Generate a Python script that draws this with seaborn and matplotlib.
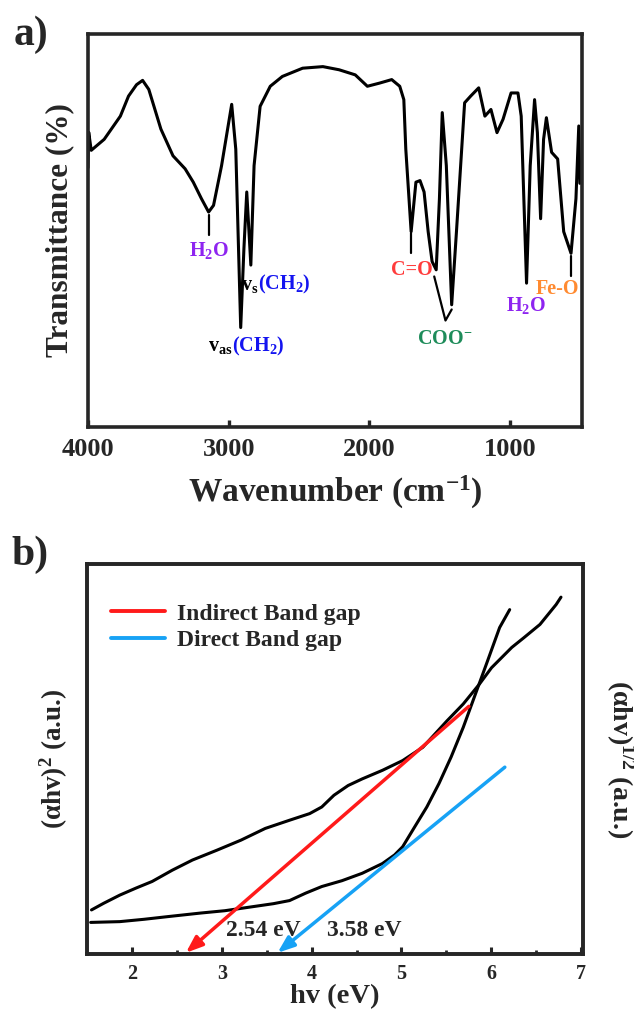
import numpy as np
import pandas as pd
import seaborn as sns
import matplotlib
matplotlib.use("Agg")
import matplotlib.pyplot as plt

# ---- FTIR spectrum (panel a) ----
wavenumber = [4000, 3995, 3977, 3885, 3770, 3712, 3655, 3612, 3568, 3482, 3396, 3310,
              3252, 3194, 3143, 3108, 3051, 2979, 2950, 2915, 2892, 2872, 2843, 2820,
              2777, 2705, 2619, 2475, 2331, 2216, 2101, 2015, 1929, 1842, 1785, 1756,
              1742, 1704, 1670, 1641, 1612, 1583, 1555, 1526, 1503, 1483, 1454, 1416,
              1382, 1324, 1281, 1224, 1180, 1137, 1094, 1051, 994, 945, 922, 884, 858,
              827, 807, 784, 763, 743, 706, 663, 620, 568, 533, 513, 505]
transmittance = [66.0, 75.0, 70.4, 73.2, 79.1, 84.2, 87.1, 88.2, 85.9, 75.8, 69.0, 65.7,
                 62.3, 58.1, 54.7, 56.4, 66.5, 82.1, 70.7, 25.3, 45.5, 59.8, 41.2, 66.5,
                 81.6, 86.7, 89.2, 91.3, 91.7, 90.9, 89.6, 86.7, 87.5, 88.4, 86.7, 83.3,
                 70.7, 49.7, 62.3, 62.7, 59.8, 49.7, 42.1, 40.0, 58.1, 80.0, 66.5, 31.1,
                 49.7, 82.5, 84.2, 86.3, 79.1, 80.8, 74.9, 78.3, 85.0, 85.0, 79.1, 36.6,
                 66.5, 83.3, 74.9, 53.0, 73.2, 78.7, 69.9, 68.2, 49.7, 44.2, 58.1, 76.6,
                 62.0]

# ---- band gap curves (panel b) ----
hv_sq = [1.550, 1.685, 1.865, 2.045, 2.225, 2.450, 2.674, 2.944, 3.214, 3.484, 3.754,
         3.978, 4.113, 4.248, 4.406, 4.563, 4.788, 5.013, 5.237, 5.372, 5.507, 5.687,
         5.867, 6.002, 6.227, 6.362, 6.541, 6.721, 6.775]
y_sq = [11.3, 13.0, 15.1, 16.9, 18.6, 21.5, 24.1, 26.6, 29.2, 32.2, 34.3, 36.0, 37.7,
        40.7, 43.2, 44.9, 47.1, 49.6, 53.0, 56.4, 59.8, 64.1, 69.2, 73.4, 78.6, 81.1,
        84.5, 89.6, 91.5]
hv_half = [1.541, 1.865, 2.135, 2.405, 2.764, 3.034, 3.304, 3.574, 3.754, 3.933, 4.113,
           4.338, 4.563, 4.788, 4.923, 5.013, 5.147, 5.282, 5.417, 5.552, 5.687, 5.822,
           5.957, 6.092, 6.204]
y_half = [8.1, 8.3, 8.9, 9.6, 10.5, 11.1, 12.0, 12.9, 13.7, 15.6, 17.3, 18.8, 20.7,
          23.2, 25.4, 27.5, 32.6, 37.7, 43.7, 50.5, 58.1, 66.6, 75.1, 83.7, 88.3]

# tangent fits: (start x, start y) -> (end x, end y)
indirect_fit = [5.75, 63.5, 2.60, 0.3]
direct_fit = [6.15, 47.9, 3.62, 0.3]
gap_labels = ["2.54 eV", "3.58 eV"]

sns.set_style("ticks")
plt.rcParams['font.family'] = ['Liberation Serif', 'DejaVu Serif']
plt.rcParams['font.weight'] = 'bold'
plt.rcParams['mathtext.fontset'] = 'custom'
plt.rcParams['mathtext.rm'] = 'Liberation Serif:bold'
plt.rcParams['mathtext.it'] = 'Liberation Serif:italic:bold'
plt.rcParams['mathtext.bf'] = 'Liberation Serif:bold'
plt.rcParams['axes.linewidth'] = 2.6

fig = plt.figure(figsize=[6.34, 10.15], dpi=100)

# ================= panel a =================
ax1 = fig.add_axes([88/634, 1-427/1015, 494/634, 393/1015])
df_a = pd.DataFrame({"wn": wavenumber, "T": transmittance})
sns.lineplot(data=df_a, x="wn", y="T", ax=ax1, color="black", lw=2.2,
             estimator=None, sort=False)
ax1.set_xlim(4000, 490)
ax1.set_ylim(0, 100)
ax1.set_xticks([4000, 3000, 2000, 1000])
ax1.set_yticks([])
ax1.tick_params(axis='x', direction='in', length=5, width=2.4, labelsize=19, pad=8)
for lab in ax1.get_xticklabels():
    lab.set_fontweight('bold')
ax1.set_xlabel("Wavenumber (cm$^{\\mathbf{-1}}$)", fontsize=24, fontweight='bold', labelpad=9)
ax1.set_ylabel("Transmittance (%)", fontsize=22.5, fontweight='bold', labelpad=10)

purple = "#8E24F0"
blue = "#1414F0"
lab_fs = 14.5

# marker ticks
for x, y0, y1 in [(3143, 53.9, 48.8), (1704, 49.4, 44.2), (568, 43.4, 38.5)]:
    ax1.plot([x, x], [y0, y1], color="black", lw=1.6)
ax1.plot([1540, 1460, 1416], [38.3, 27.1, 29.9], color="black", lw=1.6)

ax1.text(3143, 45.0, "H$_2$O", color=purple, fontsize=lab_fs, ha='center', va='center')
ax1.text(2790, 36.2, "v$_\\mathrm{s}$", color="black", fontsize=lab_fs, ha='right', va='center')
ax1.text(2790, 36.2, "(CH$_2$)", color=blue, fontsize=lab_fs, ha='left', va='center')
ax1.text(2975, 20.6, "v$_\\mathrm{as}$", color="black", fontsize=lab_fs, ha='right', va='center')
ax1.text(2975, 20.6, "(CH$_2$)", color=blue, fontsize=lab_fs, ha='left', va='center')
ax1.text(1698, 40.0, "C=O", color="#FF3C3C", fontsize=lab_fs, ha='center', va='center')
ax1.text(1468, 22.4, "COO$^{-}$", color="#1E8C5A", fontsize=lab_fs, ha='center', va='center')
ax1.text(887, 30.8, "H$_2$O", color=purple, fontsize=lab_fs, ha='center', va='center')
ax1.text(662, 35.2, "Fe-O", color="#FF8A30", fontsize=lab_fs, ha='center', va='center')

fig.text(31/634, 1-35/1015, "a)", fontsize=30, fontweight='bold', ha='center', va='center')

# ================= panel b =================
ax2 = fig.add_axes([87/634, 1-954/1015, 496/634, 390/1015])
df_sq = pd.DataFrame({"hv": hv_sq, "y": y_sq})
df_half = pd.DataFrame({"hv": hv_half, "y": y_half})
sns.lineplot(data=df_sq, x="hv", y="y", ax=ax2, color="black", lw=2.2, estimator=None)
sns.lineplot(data=df_half, x="hv", y="y", ax=ax2, color="black", lw=2.2, estimator=None)

red = "#FF1A1A"
cyan = "#17A2F5"
for fit, c in [(indirect_fit, red), (direct_fit, cyan)]:
    ax2.annotate("", xy=(fit[2], fit[3]), xytext=(fit[0], fit[1]),
                 arrowprops=dict(arrowstyle="-|>,head_length=1.0,head_width=0.38",
                                 color=c, lw=2.5, shrinkA=0, shrinkB=0))
ax2.plot([], [], color=red, lw=2.8, label="Indirect Band gap")
ax2.plot([], [], color=cyan, lw=2.8, label="Direct Band gap")
leg = ax2.legend(loc="upper left", frameon=False, fontsize=17, handlelength=2.3,
                 handletextpad=0.5, bbox_to_anchor=(0.0, 0.96), borderaxespad=0.6,
                 labelspacing=0.2)

ax2.text(3.46, 6.0, gap_labels[0], fontsize=17, ha='center', va='center')
ax2.text(4.59, 6.0, gap_labels[1], fontsize=17, ha='center', va='center')

ax2.set_xlim(1.5, 7.02)
ax2.set_ylim(0, 100)
ax2.set_xticks([2, 3, 4, 5, 6, 7])
ax2.set_xticks([2.5, 3.5, 4.5, 5.5, 6.5], minor=True)
ax2.set_yticks([])
ax2.tick_params(axis='x', which='major', direction='in', length=5, width=2.2, labelsize=14.5, pad=7)
ax2.tick_params(axis='x', which='minor', direction='in', length=3, width=2.0)
for lab in ax2.get_xticklabels():
    lab.set_fontweight('bold')
ax2.set_xlabel("hv (eV)", fontsize=20.5, fontweight='bold', labelpad=0)
ax2.set_ylabel("(\u03b1hv)$^2$ (a.u.)", fontsize=19.5, fontweight='bold', labelpad=12)

ax3 = ax2.twinx()
ax3.set_yticks([])
ax3.set_ylabel("(\u03b1hv)$^{1/2}$ (a.u.)", fontsize=20, fontweight='bold',
               rotation=270, labelpad=38)

fig.text(30/634, 1-555/1015, "b)", fontsize=30, fontweight='bold', ha='center', va='center')

fig.savefig("out.png", dpi=100)
